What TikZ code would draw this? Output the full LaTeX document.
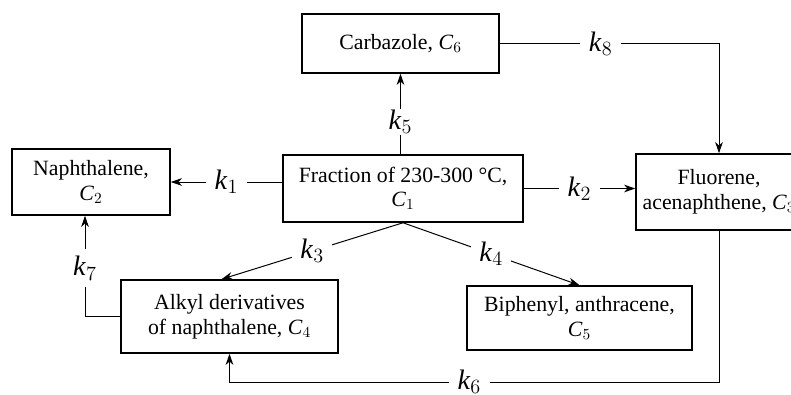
\documentclass[tikz,border=0pt]{standalone}
\usepackage{fontspec}
\setmainfont{Liberation Serif}
\usetikzlibrary{arrows.meta}

\newcommand\conc[1]{\textit{C}$_{#1}$}
\newcommand\rk[1]{\textit{k}$_{#1}$}

\begin{document}
\begin{tikzpicture}[
    x=0.025cm, y=-0.025cm,
    box/.style={
        draw,
        line width=1.1pt,
        align=center,
        inner sep=0pt,
        font=\fontsize{15.5}{17.5}\selectfont,
    },
    conn/.style={
        line width=0.7pt,
        -{Stealth[length=8pt,width=5.5pt]},
    },
    rate/.style={
        fill=white,
        inner xsep=6pt,
        inner ysep=1pt,
        font=\fontsize{20}{22}\selectfont,
    }
]
    \useasboundingbox (0,0) rectangle (791,395);

    % Boxes
    \node[box, minimum width=197*0.025cm, minimum height=59*0.025cm] (carb) at (400.5,43.5) {Carbazole, \conc{6}};
    \node[box, minimum width=158*0.025cm, minimum height=66*0.025cm] (naph) at (91,182) {Naphthalene,\\\conc{2}};
    \node[box, minimum width=240*0.025cm, minimum height=67*0.025cm] (frac) at (403,188.5) {Fraction of 230-300 °C,\\\conc{1}};
    \node[box, minimum width=166*0.025cm, minimum height=76*0.025cm] (flu) at (719,192) {Fluorene,\\acenaphthene, \conc{3}};
    \node[box, minimum width=217*0.025cm, minimum height=73*0.025cm] (alk) at (229.5,316.5) {Alkyl derivatives\\of naphthalene, \conc{4}};
    \node[box, minimum width=225*0.025cm, minimum height=64*0.025cm] (biph) at (579.5,318) {Biphenyl, anthracene,\\\conc{5}};

    \coordinate (bot) at (0,382);

    % Connectors
    \draw[conn] (naph.east -| frac.west) -- node[rate] {\rk{1}} (naph.east);
    \draw[conn] (frac.east) -- node[rate] {\rk{2}} (frac.east -| flu.west);
    \draw[conn] (frac.south) -- node[rate] {\rk{3}} ([xshift=-0.2cm]alk.north);
    \draw[conn] (frac.south) -- node[rate] {\rk{4}} (biph.north);
    \draw[conn] (carb.south |- frac.north) -- node[rate, pos=0.4] {\rk{5}} (carb.south);
    \draw[conn] (flu.south) -- (flu.south |- bot) -| node[rate, pos=0.255] {\rk{6}} (alk.south);
    \draw[conn] (alk.west) -| node[rate, pos=0.74, inner xsep=2pt, inner ysep=5pt] {\rk{7}} ([xshift=-0.15cm]naph.south);
    \draw[conn] (carb.east) -| node[rate, pos=0.23] {\rk{8}} (flu.north);
\end{tikzpicture}
\end{document}
